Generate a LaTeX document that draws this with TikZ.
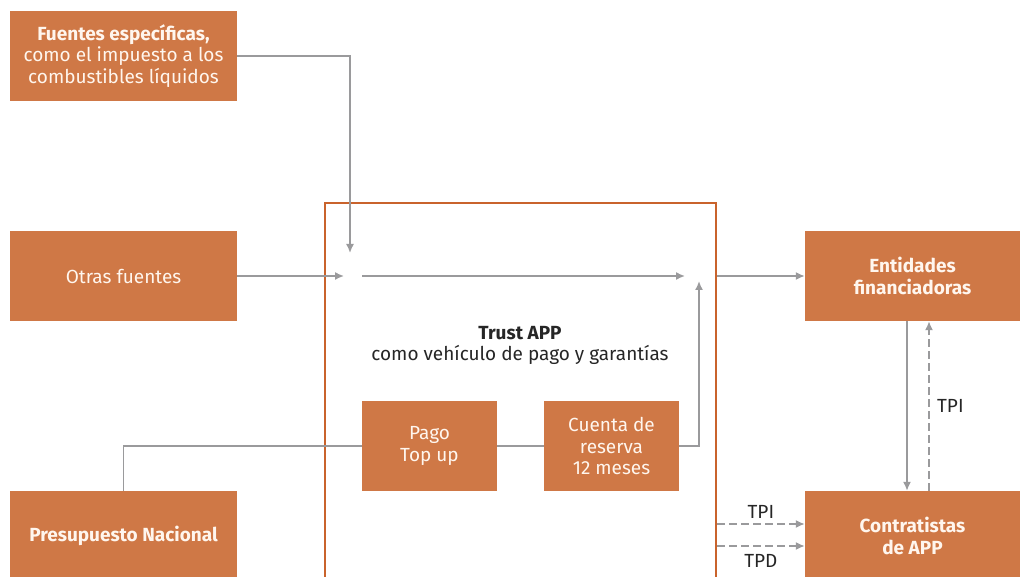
\documentclass[tikz,border=0pt]{standalone}
\usepackage{fontspec}
\setmainfont{Fira Sans}
\usetikzlibrary{arrows.meta}
\definecolor{boxor}{HTML}{CF7846}
\definecolor{trustor}{HTML}{C9632C}
\definecolor{arrgray}{HTML}{9A9A9C}
\definecolor{boxtxt}{HTML}{FFF6EE}
\tikzset{
  obox/.style={fill=boxor, draw=none, text=boxtxt, minimum width=227pt, minimum height=90pt, align=center, inner sep=0pt, font=\fontsize{19}{21.5}\selectfont},
  ibox/.style={obox, minimum width=135pt},
  conn/.style={draw=arrgray, line width=1.6pt},
  arr/.style={conn, -{Latex[length=9pt,width=8pt]}},
  darr/.style={arr, dash pattern=on 8pt off 4pt},
  lbl/.style={font=\fontsize{19}{21}\selectfont, text=black!85}
}
\begin{document}
\begin{tikzpicture}[x=1pt,y=-1pt]
\useasboundingbox (0,0) rectangle (1020,577);
% trust box
\draw[trustor, line width=2pt] (325,600) -- (325,203) -- (716,203) -- (716,600);
\node[lbl, align=center] (trust) at (520,345) {\textbf{Trust APP}\\como vehículo de pago y garantías};
% boxes
\node[obox] (fuentes) at (123.5,56) {\textbf{Fuentes específicas,}\\como el impuesto a los\\combustibles líquidos};
\node[obox] (otras) at (123.5,276) {Otras fuentes};
\node[obox] (presu) at (123.5,536) {\textbf{Presupuesto Nacional}};
\node[obox, minimum width=215pt] (entid) at (912.5,276) {\textbf{Entidades}\\\textbf{financiadoras}};
\node[obox, minimum width=215pt] (contr) at (912.5,536) {\textbf{Contratistas}\\\textbf{de APP}};
\node[ibox] (pago) at (429.5,446) {Pago\\Top up};
\node[ibox] (cuenta) at (611.5,446) {Cuenta de\\reserva\\12 meses};
% coordinates
\coordinate (j1) at (350,253);
\coordinate (j2) at (344,276);
\coordinate (m1) at (362,276);
\coordinate (m2) at (685,276);
\coordinate (j3) at (699,281);
\coordinate (t1) at (717,276);
\coordinate (t2) at (717,524);
\coordinate (t3) at (717,546);
% connectors
\draw[arr] (fuentes.east) -| (j1);
\draw[arr] (otras.east) -- (j2);
\draw[arr] (m1) -- (m2);
\draw[arr] (cuenta.east) -| (j3);
\draw[arr] (t1) -- (entid.west);
\draw[conn] (presu.north) |- (pago.west);
\draw[conn] (pago.east) -- (cuenta.west);
\draw[arr] ([xshift=-5.5pt]entid.south) -- ([xshift=-5.5pt]contr.north);
\draw[darr] ([xshift=16.5pt]contr.north) -- node[lbl, right=4pt] {TPI} ([xshift=16.5pt]entid.south);
\draw[darr] (t2) -- node[lbl, above=1pt] {TPI} (contr.west |- t2);
\draw[darr] (t3) -- node[lbl, below=4pt] {TPD} (contr.west |- t3);
\end{tikzpicture}
\end{document}
